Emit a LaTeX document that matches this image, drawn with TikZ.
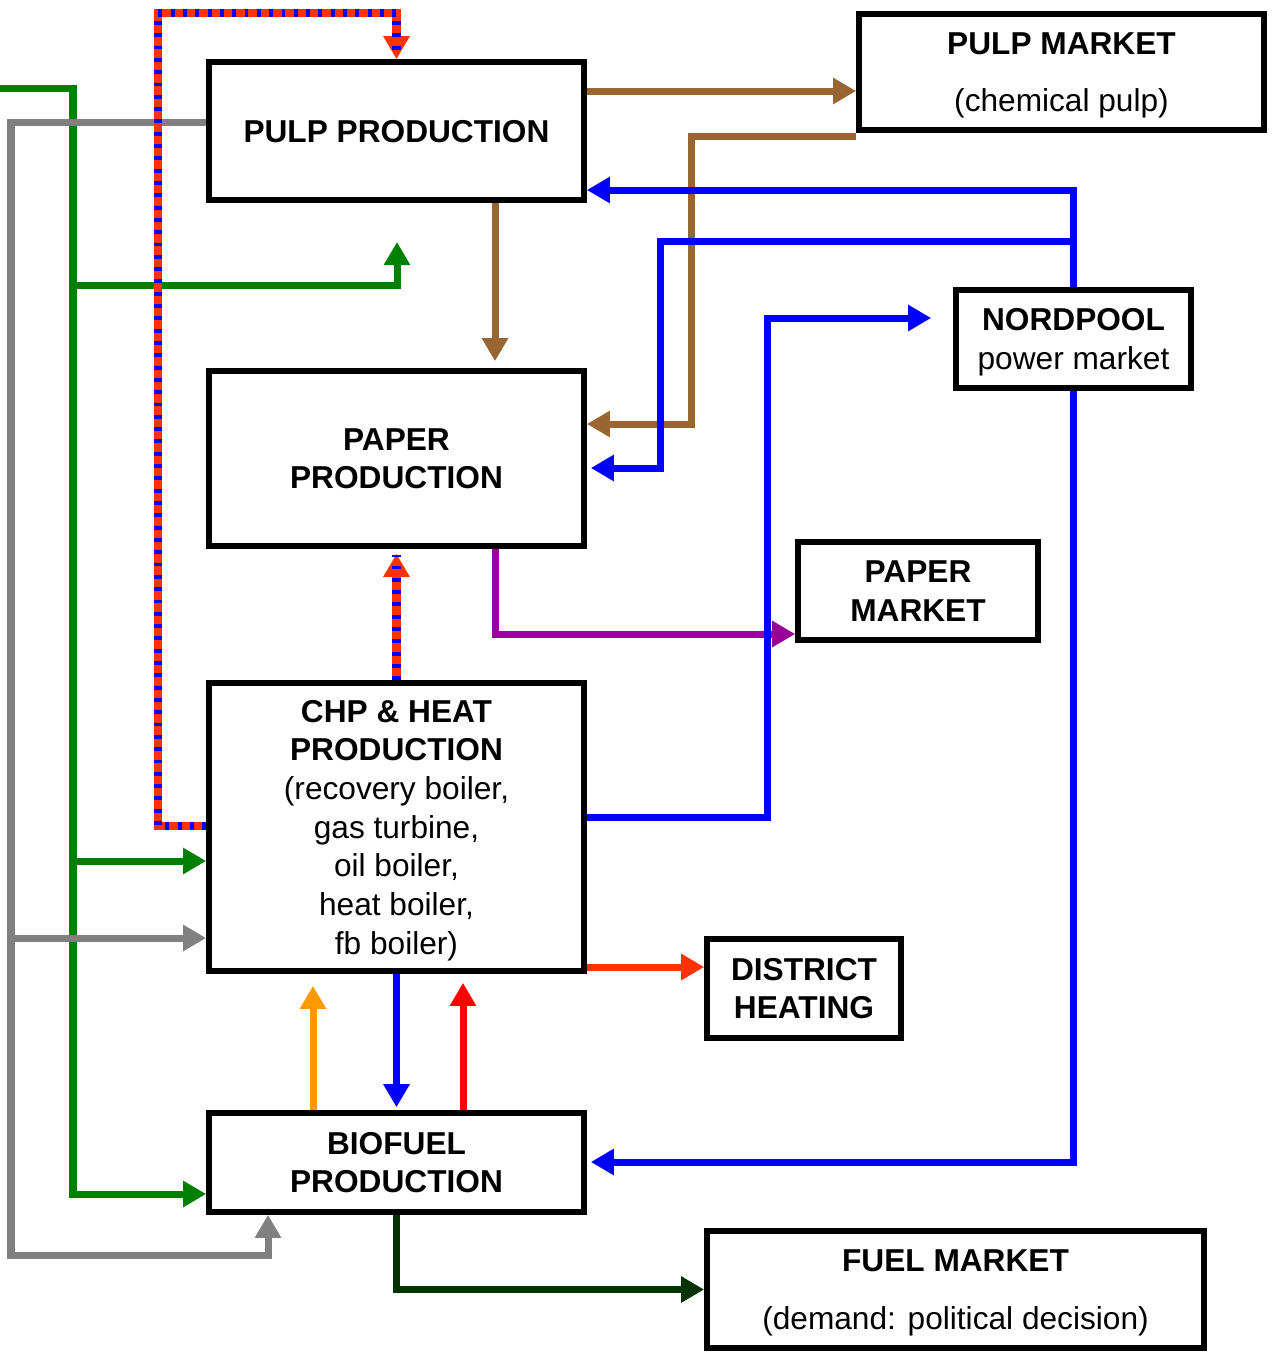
\documentclass[tikz,border=0pt]{standalone}
\usepackage{fontspec}
\setmainfont{Liberation Sans}
\usepackage{xcolor}
\usepackage{tikz}
\usetikzlibrary{arrows.meta}

\definecolor{pulpbrown}{HTML}{996633}
\definecolor{elblue}{HTML}{0000FF}
\definecolor{woodgreen}{HTML}{008000}
\definecolor{fuelgreen}{HTML}{003300}
\definecolor{wastegray}{HTML}{808080}
\definecolor{paperpurple}{HTML}{990099}
\definecolor{heatred}{HTML}{FF3300}
\definecolor{oilorange}{HTML}{FF9900}
\definecolor{gasred}{HTML}{FF0000}

\begin{document}
\begin{tikzpicture}[x=0.01cm,y=-0.01cm,
        font=\fontsize{9}{11}\selectfont\bfseries,
        box/.style={draw,line width=0.055cm,align=center,inner sep=0pt,text depth=0pt},
        flow/.style={line width=0.07cm,-{Triangle[length=0.23cm,width=0.25cm]}},
        hatched/.style={line width=0.085cm,draw=heatred,
            postaction={draw=elblue,dash pattern=on 1.1pt off 2.4pt,arrows=-,shorten >=0.06cm}}]
        \useasboundingbox (0,0) rectangle (1272,1354);

        \node[box,minimum width=3.75cm,minimum height=1.38cm] (pulp) at (396.5,131) {PULP PRODUCTION};
        \node[box,minimum width=4.05cm,minimum height=1.16cm] (pmkt) at (1061.5,72) {PULP MARKET\\[0.19cm]\textmd{(chemical pulp)}};
        \node[box,minimum width=3.75cm,minimum height=1.75cm] (paper) at (396.5,458.5) {PAPER\\PRODUCTION};
        \node[box,minimum width=2.35cm,minimum height=0.98cm] (npool) at (1073.5,339) {NORDPOOL\\\textmd{power market}};
        \node[box,minimum width=2.40cm,minimum height=0.98cm] (papmkt) at (918,591) {PAPER\\MARKET};
        \node[box,minimum width=3.75cm,minimum height=2.88cm] (chp) at (396.5,827) {CHP \& HEAT\\PRODUCTION\\\textmd{(recovery boiler,}\\\textmd{gas turbine,}\\\textmd{oil boiler,}\\\textmd{heat boiler,}\\\textmd{fb boiler)}};
        \node[box,minimum width=1.94cm,minimum height=0.99cm] (dh) at (804,988.5) {DISTRICT\\HEATING};
        \node[box,minimum width=3.75cm,minimum height=0.99cm] (bio) at (396.5,1162.5) {BIOFUEL\\PRODUCTION};
        \node[box,minimum width=4.97cm,minimum height=1.17cm] (fmkt) at (955.5,1289.5) {FUEL MARKET\\[0.19cm]\textmd{(demand: political decision)}};

        \coordinate (gin) at (0,88);
        \coordinate (gup) at (397,242);

        \draw[flow,woodgreen] (gin) -| (73,1194) -- (bio.west |- 0,1194);
        \draw[flow,woodgreen] (73,285) -| (gup);
        \draw[flow,woodgreen] (73,861) -- (chp.west |- 0,861);

        \draw[flow,wastegray] (pulp.west |- 0,122) -| (11,1255) -| (bio.south -| 268,0);
        \draw[flow,wastegray] (11,938) -- (chp.west |- 0,938);

        \draw[flow,pulpbrown] (pulp.east |- 0,91) -- (pmkt.west |- 0,91);
        \draw[flow,pulpbrown] ([yshift=-0.04cm]pmkt.south west) -| (691,424) -- (paper.east |- 0,424);
        \draw[flow,pulpbrown,shorten >=0.07cm] (pulp.south -| 495,0) -- (paper.north -| 495,0);

        \draw[flow,paperpurple] (paper.south -| 495,0) |- (papmkt.west |- 0,634);
        \draw[flow,heatred] (chp.east |- 0,967) -- (dh.west |- 0,967);
        \draw[flow,oilorange,shorten >=0.12cm] (bio.north -| 313,0) -- (chp.south -| 313,0);
        \draw[flow,gasred,shorten >=0.09cm] (bio.north -| 463,0) -- (chp.south -| 463,0);
        \draw[flow,fuelgreen] (bio.south) |- (fmkt.west);

        \draw[flow,elblue] (npool.north) |- (pulp.east |- 0,190);
        \draw[flow,elblue,shorten >=0.04cm] (npool.north |- 0,241) -| (660,468) -- (paper.east |- 0,468);
        \draw[flow,elblue,shorten >=0.04cm] (npool.south) |- (bio.east |- 0,1162);
        \draw[flow,elblue,shorten >=0.22cm] (chp.east |- 0,817) -| (767,318) -- (npool.west |- 0,318);
        \draw[flow,elblue,shorten >=0.03cm] (chp.south) -- (bio.north);

        \draw[flow,hatched] (chp.west |- 0,826) -| (158,13) -| (pulp.north);
        \draw[flow,hatched,shorten >=0.05cm] (chp.north) -- (paper.south);
    \end{tikzpicture}
\end{document}
